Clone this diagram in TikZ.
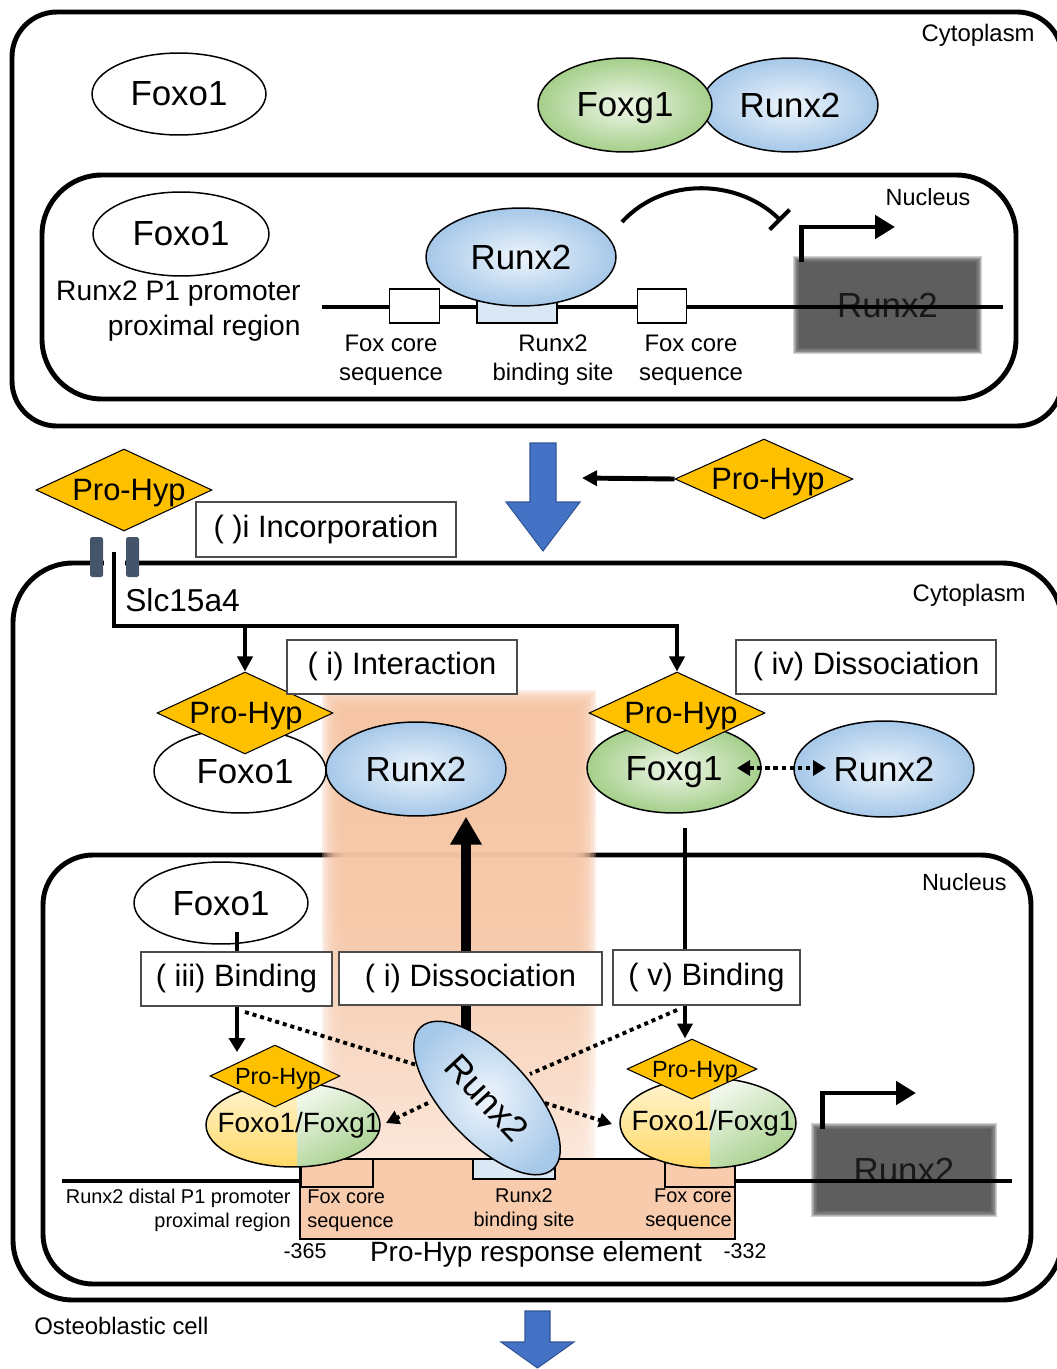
\documentclass[tikz,border=0pt]{standalone}
\usepackage{fontspec}
\setmainfont{Liberation Sans}
\usetikzlibrary{shapes.geometric,arrows.meta,calc}
\newdimen\pxu \pxu=0.56693pt
\newcommand\fpx[1]{\fontsize{#1\pxu}{1.2\dimexpr#1\pxu\relax}\selectfont}
\newcommand\fpxl[2]{\fontsize{#1\pxu}{#2\pxu}\selectfont}
\definecolor{phy}{HTML}{FFC000}
\definecolor{runin}{HTML}{EEF5FC}
\definecolor{runout}{HTML}{A6C8E9}
\definecolor{grin}{HTML}{F0F7EB}
\definecolor{grout}{HTML}{A5CF8A}
\definecolor{ylt}{HTML}{FFF4D2}
\definecolor{ylb}{HTML}{FFD966}
\definecolor{peach}{HTML}{F8CBAD}
\definecolor{band}{HTML}{F5C3A2}
\definecolor{bsite}{HTML}{DAE8F6}
\definecolor{grayb}{HTML}{5E5E5E}
\definecolor{chan}{HTML}{44546A}
\definecolor{bluea}{HTML}{4472C4}
\definecolor{blued}{HTML}{2F5597}
\pgfdeclarelayer{back}\pgfdeclarelayer{bandl}\pgfdeclarelayer{lines}
\pgfsetlayers{back,bandl,lines,main}
\tikzset{
  sz/.style 2 args={minimum width=#1*0.04cm, minimum height=#2*0.04cm},
  rs/.style 2 args={minimum width=#1*0.02cm, minimum height=#2*0.02cm},
  ell/.style={ellipse, draw, line width=0.85pt, inner sep=0pt, text depth=0pt},
  blueell/.style={ell, shade, inner color=runin, outer color=runout},
  greenell/.style={ell, shade, inner color=grin, outer color=grout},
  whiteell/.style={ell, fill=white},
  phd/.style={diamond, draw, line width=0.6pt, fill=phy, inner sep=0pt},
  phl/.style 2 args={label={[font=\fpx{#1}, text depth=0pt, xshift=#2*0.02cm]center:Pro-Hyp}},
  lab/.style={draw=black!70, line width=0.8pt, fill=white, inner sep=0pt, font=\fpx{31}},
  memb/.style={line width=2.8pt},
  dna/.style={line width=2.8pt},
  boxb/.style={draw, line width=0.8pt, inner sep=0pt},
  chanb/.style={fill=chan, rounded corners=1pt, inner sep=0pt, rs={13}{40}},
  al/.style={line width=2.3pt, -{Triangle[length=0.3cm, width=0.3cm]}},
  tss/.style={line width=2.8pt, -{Triangle[length=0.4cm, width=0.46cm]}},
  inh/.style={line width=2.3pt, -{Bar[width=0.56cm]}},
  dotl/.style={line width=2.2pt, dash pattern=on 2.3pt off 2.2pt},
  dotarr/.style={dotl, -{Triangle[length=0.26cm, width=0.28cm]}},
  barrow/.style={fill=bluea, draw=blued, line width=0.6pt},
  txt/.style={inner sep=0pt}
}
\begin{document}
\begin{tikzpicture}[x=0.02cm,y=-0.02cm]
\useasboundingbox (0,0) rectangle (1057,1369);

% ---------------- top cell ----------------
\draw[memb, rounded corners=0.9cm] (12,12) rectangle (1062,426);
\draw[memb, rounded corners=1.2cm] (42,175) rectangle (1016,399);
\node[txt, font=\fpx{24}, anchor=east] (cy1) at (1035,35) {Cytoplasm};
\node[txt, font=\fpx{23.5}] (nu1) at (928,197) {Nucleus};

\node[whiteell, sz={87}{41}, font=\fpx{35}] (fo1) at (179,94) {Foxo1};
\node[blueell, sz={88}{47}, font=\fpx{35}] (rx1) at (790,105) {Runx2};
\node[greenell, sz={87}{47}, font=\fpx{35}] (fg1) at (625,105) {Foxg1};

\node[whiteell, sz={88}{42}, font=\fpx{35}] (fo2) at (181,234) {Foxo1};
\node[txt, font=\fpxl{28.3}{35}, align=right, anchor=east] (p1t) at (301,311) {Runx2 P1 promoter\\proximal region};

% gray blurred gene box (top)
\foreach \i in {1,...,8} {\fill[grayb, opacity=0.28] (799-0.7*\i,262-0.7*\i) rectangle (976+0.7*\i,348+0.7*\i);}
\node[fill=grayb, inner sep=0pt, rs={177}{86}, font=\fpx{35}, text=black!90] (gb1) at (887.5,305) {Runx2};

\coordinate (d1l) at (322,307);
\coordinate (d1r) at (1003,307);
\draw[dna] (d1l) -- (d1r);
\node[boxb, fill=white, rs={50}{34}] (fc1) at (414.5,306) {};
\node[boxb, fill=bsite, rs={80}{23}] (bs1) at (517,311.5) {};
\node[boxb, fill=white, rs={49}{34}] (fc2) at (662,306) {};
\node[blueell, sz={95}{49}, font=\fpx{35}] (rn) at (521,257) {Runx2};

\node[txt, font=\fpxl{24}{29}, align=center] (l1) at (391,360) {Fox core\\sequence};
\node[txt, font=\fpxl{24}{29}, align=center] (l2) at (553,360) {Runx2\\binding site};
\node[txt, font=\fpxl{24}{29}, align=center] (l3) at (691,360) {Fox core\\sequence};

\coordinate (ia) at (622,222);
\coordinate (ib) at (781,221);
\draw[inh] (ia) .. controls (665,175) and (740,180) .. (ib);
\coordinate (t1b) at (895,227);
\draw[tss] ([xshift=0.06cm]gb1.north west) |- (t1b);

% ---------------- middle ----------------
\filldraw[barrow] (530,443) -- (556,443) -- (556,502) -- (580,502) -- (543,551) -- (506,502) -- (530,502) -- cycle;
\coordinate (ba1) at (582,478);
\node[phd, sz={88}{41}, phl={31}{5}] (ph1) at (124,490) {};
\node[phd, sz={89}{40}, phl={31}{4}] (ph2) at (764,479) {};
\draw[al, line width=2.8pt] (ph2.west) -- (ba1);
\node[lab, rs={260}{55}] (inc) at (326,529.5) {( )i Incorporation};

% ---------------- lower cell ----------------
\begin{pgfonlayer}{back}
\draw[memb, rounded corners=1.2cm] (13,563) rectangle (1062,1300);
\draw[memb, rounded corners=1.0cm] (43,855) rectangle (1031,1284);
\fill[white] (104,555) rectangle (125,571);
\end{pgfonlayer}
\begin{pgfonlayer}{bandl}
\foreach \i in {0,...,9} {\shade[opacity=0.3, top color=band, bottom color=band!40!white, middle color=band!92!white] (322+2.5*\i,690+2.5*\i) rectangle (596-2.5*\i,1168-2.5*\i);}
\end{pgfonlayer}

\node[chanb] (ch1) at (96.5,557) {};
\node[chanb] (ch2) at (132.5,557) {};
\coordinate (chv) at (114,552);
\coordinate (jn) at (114,626);
\node[txt, font=\fpx{31.8}, anchor=west] (slc) at (125,600) {Slc15a4};
\node[txt, font=\fpx{24}, anchor=east] (cy2) at (1026,595) {Cytoplasm};
\node[txt, font=\fpx{23.5}, anchor=east] (nu2) at (1007,882) {Nucleus};

% cytoplasm complexes
\node[whiteell, sz={86}{42}, font=\fpx{35}] (fo4) at (240,771) {\hspace*{0.2cm}Foxo1};
\node[phd, sz={88}{41}, phl={31}{1}] (ph3) at (245,713) {};
\node[blueell, sz={90}{47}, font=\fpx{35}] (rx2) at (416,769) {Runx2};
\node[greenell, sz={87}{45}, font=\fpx{35}] (fg2) at (674,768) {Foxg1};
\node[phd, sz={88}{41}, phl={31}{4}] (ph4) at (677,713) {};
\node[blueell, sz={90}{48}, font=\fpx{35}] (rx3) at (884,769) {Runx2};

\node[lab, rs={230}{54}] (int) at (402,667) {( i) Interaction};
\node[lab, rs={260}{54}] (dis4) at (866,667) {( iv) Dissociation};

% nucleus
\node[whiteell, sz={87}{41}, font=\fpx{35}] (fo5) at (221,903) {Foxo1};
\coordinate (f5a) at (237,932);
\coordinate (f5b) at (237,1052);
\draw[al, -{Triangle[length=0.28cm, width=0.32cm]}] (f5a) -- (f5b);

% promoter element
\node[boxb, fill=peach, rs={435}{80}] (pre) at (517.5,1199) {};
\node[boxb, fill=peach, rs={72}{28}] (fc3) at (337,1173) {};
\node[boxb, fill=bsite, rs={82}{20}] (bs2) at (514,1169) {};
\node[boxb, fill=peach, rs={70}{28}] (fc4) at (700,1173) {};
\node[txt, font=\fpxl{20}{24}, align=left, anchor=west] (l4) at (307,1211) {Fox core\\sequence};
\node[txt, font=\fpxl{20}{24}, align=center] (l5) at (524,1210) {Runx2\\binding site};
\node[txt, font=\fpxl{20}{24}, align=right, anchor=east] (l6) at (732,1210) {Fox core\\sequence};
\node[txt, font=\fpxl{20}{24}, align=right, anchor=east] (l7) at (291,1210) {Runx2 distal P1 promoter\\proximal region};
\node[txt, font=\fpx{21.5}] (n365) at (305,1251) {-365};
\node[txt, font=\fpx{21.5}] (n332) at (745,1251) {-332};
\node[txt, font=\fpx{28}] (pre_t) at (536,1254) {Pro-Hyp response element};

\coordinate (d2l) at (62,1181);
\coordinate (d2r) at (1012,1181);
\draw[dna] (d2l) -- (d2l -| pre.west);
\foreach \i in {1,...,8} {\fill[grayb, opacity=0.28] (817-0.7*\i,1129-0.7*\i) rectangle (991+0.7*\i,1211+0.7*\i);}
\node[fill=grayb, inner sep=0pt, rs={174}{82}, font=\fpx{35}, text=black!90] (gb2) at (904,1170) {Runx2};
\draw[dna] (d2r -| pre.east) -- (d2r);
\coordinate (t2b) at (916,1093);
\draw[tss] ([xshift=0.12cm]gb2.north west) |- (t2b);

\node[ell, sz={87}{42}, path picture={
  \shade[top color=ylt, bottom color=ylb] (path picture bounding box.north west) rectangle ($(path picture bounding box.south)+(4,0)$);
  \shade[top color=grin, bottom color=grout, shading angle=30] ($(path picture bounding box.north)+(4,0)$) rectangle (path picture bounding box.south east);
}, label={[font=\fpx{28}, xshift=0.12cm]center:Foxo1/Foxg1}] (ff1) at (293,1125) {};
\node[phd, sz={65}{31}, phl={23.5}{3}] (ph5) at (275,1076) {};
\node[ell, sz={88}{45}, path picture={
  \shade[top color=ylt, bottom color=ylb] (path picture bounding box.north west) rectangle ($(path picture bounding box.south)+(2,0)$);
  \shade[top color=grin, bottom color=grout, shading angle=30] ($(path picture bounding box.north)+(2,0)$) rectangle (path picture bounding box.south east);
}, label={[font=\fpx{28}, xshift=0.1cm]center:Foxo1/Foxg1}] (ff2) at (708,1123) {};
\node[phd, sz={65}{30}, phl={23.5}{3}] (ph6) at (692,1069) {};

\node[blueell, sz={97}{43}, rotate=-47, font=\fpx{36}] (rd) at (487,1098) {Runx2};

\node[lab, rs={191}{54}] (b3) at (236.5,979) {( iii) Binding};
\node[lab, rs={263}{53}] (d6) at (470.5,978.5) {( i) Dissociation};
\node[lab, rs={187}{55}] (b5) at (706.5,977.5) {( v) Binding};

% connectors (behind nodes)
\coordinate (v1) at (685,828);
\coordinate (upS) at (466,1045);
\coordinate (dl1) at (245,1012);
\coordinate (dl1e) at (420,1066);
\coordinate (dl2) at (677,1010);
\coordinate (dl2e) at (530,1074);
\coordinate (da1) at (428,1103);
\coordinate (da1e) at (386,1123);
\coordinate (da2) at (545,1103);
\coordinate (da2e) at (612,1124);
\coordinate (dfa) at (737,768);
\coordinate (dfb) at (826,768);
\begin{pgfonlayer}{lines}
\draw[al] (chv) -- (jn) -| (ph4.north);
\draw[al] (jn -| ph3.north) -- (ph3.north);
\draw[al] (v1) -- (v1 |- ph6.north);
\draw[line width=5.7pt, -{Triangle[length=0.56cm, width=0.6cm]}] (upS) -- (upS |- rx2.south);
\draw[dotl] (dl1) -- (dl1e);
\draw[dotl] (dl2) -- (dl2e);
\draw[dotarr] (da1) -- (da1e);
\draw[dotarr] (da2) -- (da2e);
\end{pgfonlayer}
\draw[line width=2.8pt, dash pattern=on 2.6pt off 2pt, {Triangle[length=0.26cm, width=0.3cm]}-{Triangle[length=0.26cm, width=0.3cm]}] (dfa) -- (dfb);

\node[txt, font=\fpx{24}, anchor=west] (ost) at (34,1326) {Osteoblastic cell};
\filldraw[barrow] (525,1311) -- (550,1311) -- (550,1342) -- (574,1342) -- (537.5,1368) -- (501,1342) -- (525,1342) -- cycle;
\end{tikzpicture}
\end{document}
